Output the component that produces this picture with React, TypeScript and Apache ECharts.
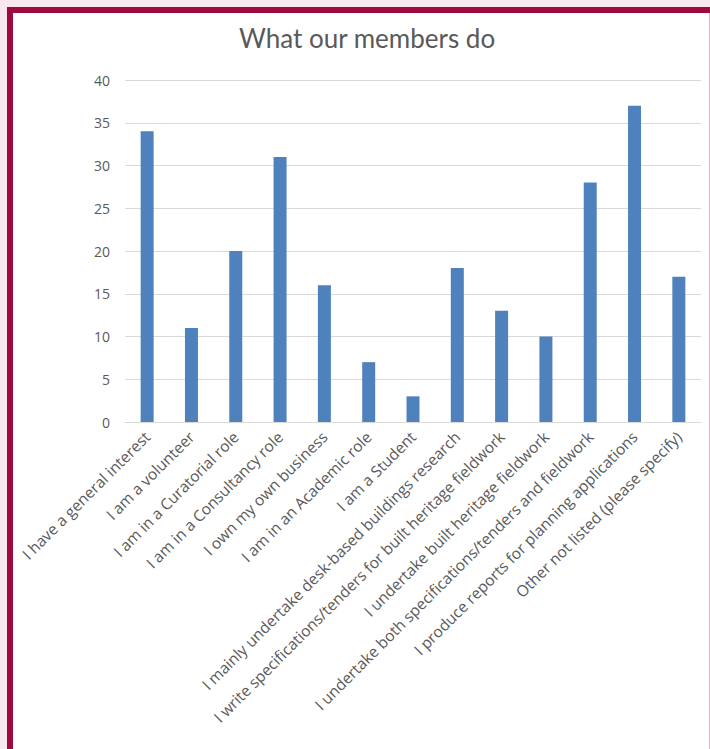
import React, { useEffect, useRef } from "react";
import * as echarts from "echarts";

const categories = [
  "I have a general interest",
  "I am a volunteer",
  "I am in a Curatorial role",
  "I am in a Consultancy role",
  "I own my own business",
  "I am in an Academic role",
  "I am a Student",
  "I mainly undertake desk-based buildings research",
  "I write specifications/tenders for built heritage fieldwork",
  "I undertake built heritage fieldwork",
  "I undertake both specifications/tenders and fieldwork",
  "I produce reports for planning applications",
  "Other not listed (please specify)",
];
const values = [34, 11, 20, 31, 16, 7, 3, 18, 13, 10, 28, 37, 17];
const title = "What our members do";

export default function App() {
  const ref = useRef<HTMLDivElement>(null);
  useEffect(() => {
    if (!ref.current) return;
    const chart = echarts.init(ref.current, undefined, { renderer: "svg" });
    const font = "'Open Sans', sans-serif";
    chart.setOption({
      animation: false,
      backgroundColor: "#f6e8ee",
      graphic: [
        { type: "rect", shape: { x: 13, y: 12, width: 696, height: 740 }, style: { fill: "#ffffff" }, z: -10 },
        { type: "rect", shape: { x: 7, y: 7, width: 703, height: 6 }, style: { fill: "#a0093d" }, z: -9 },
        { type: "rect", shape: { x: 7, y: 7, width: 6, height: 742 }, style: { fill: "#a0093d" }, z: -9 },
        { type: "line", shape: { x1: 709.5, y1: 13, x2: 709.5, y2: 749 }, style: { stroke: "#e3afc1", lineWidth: 1 }, z: -9 },
      ],
      title: {
        text: title,
        left: 362,
        top: 20,
        textAlign: "center",
        textStyle: { fontFamily: "Lato, sans-serif", fontSize: 26, fontWeight: "normal", color: "#595959" },
      },
      grid: { left: 125, right: 9, top: 80, bottom: 327, containLabel: false },
      xAxis: {
        type: "category",
        data: categories,
        axisLine: { lineStyle: { color: "#d9d9d9" } },
        axisTick: { show: false },
        axisLabel: {
          interval: 0,
          rotate: 45,
          margin: 12,
          color: "#595959",
          fontFamily: font,
          fontSize: 15.5,
        },
      },
      yAxis: {
        type: "value",
        min: 0,
        max: 40,
        interval: 5,
        axisLine: { show: false },
        axisTick: { show: false },
        splitLine: { lineStyle: { color: "#d9d9d9" } },
        axisLabel: { color: "#595959", fontFamily: font, fontSize: 14, margin: 15 },
      },
      series: [
        {
          type: "bar",
          data: values,
          barWidth: 13,
          itemStyle: { color: "#4f81bd" },
        },
      ],
    });
    return () => chart.dispose();
  }, []);
  return (
    <div
      ref={ref}
      style={{ position: "fixed", left: 0, top: 0, width: 710, height: 749 }}
    />
  );
}
